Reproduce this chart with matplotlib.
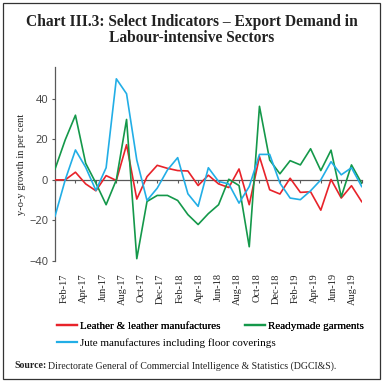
import numpy as np
import matplotlib
matplotlib.use("Agg")
import matplotlib.pyplot as plt
from matplotlib.lines import Line2D
from matplotlib.patches import Rectangle

# monthly y-o-y growth, Feb-17 .. Aug-19
months = ["Feb-17", "Apr-17", "Jun-17", "Aug-17", "Oct-17", "Dec-17",
          "Feb-18", "Apr-18", "Jun-18", "Aug-18", "Oct-18", "Dec-18",
          "Feb-19", "Apr-19", "Jun-19", "Aug-19"]

leather = [0, 0, 3.8, -2, -5.4, 2.1, -0.3, 17.4, -9.5, 1.6, 7.2, 5.7, 4.6, 4.4,
           -2.8, 2.3, -2, -3.8, 5.4, -12.3, 11.5, -4.9, -7, 0.8, -6.2, -5.9,
           -15, 0.2, -9, -2.9, -10.8]
garments = [5.3, 19.8, 32, 8.2, -1.6, -12.3, 0, 29.9, -39, -10.7, -7.7, -7.7,
            -10.2, -17.2, -22.1, -16.7, -12.3, 0.3, -2.8, -33.1, 36.4, 9.8, 3,
            9.5, 7.4, 15.4, 4.6, 14.7, -8.4, 7.4, -1.7]
jute = [-18, 0, 14.8, 6.2, -5.2, 6, 50, 42.6, 9.8, -10.2, -4.1, 4.9, 11, -6.9,
        -13.1, 6, -0.8, -2, -11.5, -3.3, 12.6, 12.6, -1.6, -9, -9.8, -5.4, 0,
        9, 2.5, 6, -3.3]

RED = "#E8232A"
GREEN = "#14984A"
BLUE = "#22AEE6"
AXC = "#595959"
SERIF = "Liberation Serif"

x = np.arange(len(leather))

fig = plt.figure(figsize=(3.84, 3.83), dpi=100)
ax = fig.add_axes([55 / 384, 1 - 260.7 / 383, (361.7 - 55) / 384, (260.7 - 66.7) / 383])

ax.plot(x, leather, color=RED, lw=1.2, zorder=3)
ax.plot(x, garments, color=GREEN, lw=1.2, zorder=3)
ax.plot(x, jute, color=BLUE, lw=1.2, zorder=4)

ax.set_xlim(0, len(x) - 1)
ax.set_ylim(-40, 56)
ax.set_yticks([-40, -20, 0, 20, 40])
for s in ["top", "right"]:
    ax.spines[s].set_visible(False)
ax.spines["left"].set_color(AXC)
ax.spines["left"].set_linewidth(0.9)
ax.spines["bottom"].set_position(("data", 0))
ax.spines["bottom"].set_color(AXC)
ax.spines["bottom"].set_linewidth(0.9)
ax.spines["bottom"].set_zorder(2)
ax.set_xticks(x[::2])
ax.tick_params(axis="x", direction="out", length=2.5, color=AXC, labelbottom=False)
ax.tick_params(axis="y", direction="out", length=2.4, pad=2.5, color=AXC,
               labelsize=8, labelcolor="#404040")
for t in ax.get_yticklabels():
    t.set_family("Open Sans")

# month labels sit along the bottom of the plot
lab_pos = np.linspace(0.92, 29.13, len(months))
sec = ax.secondary_xaxis(0)
sec.spines["bottom"].set_visible(False)
sec.set_xticks(lab_pos, months, rotation=90)
sec.tick_params(length=0, pad=9, labelsize=7.5, labelcolor="#222222")
for t in sec.get_xticklabels():
    t.set_family(SERIF)

fig.text(21.5 / 384, 1 - 164 / 383, "y-o-y growth in per cent", rotation=90,
         ha="center", va="center", family=SERIF, fontsize=7.5, color="#222222")

fig.text(0.5, 1 - 21.5 / 383, "Chart III.3: Select Indicators \u2013 Export Demand in",
         ha="center", va="center", family=SERIF, weight="bold", fontsize=11.2, color="#222222")
fig.text(0.5, 1 - 38.5 / 383, "Labour-intensive Sectors",
         ha="center", va="center", family=SERIF, weight="bold", fontsize=11.2, color="#222222")

h_red = Line2D([], [], color=RED, lw=1.6)
h_green = Line2D([], [], color=GREEN, lw=1.6)
h_blue = Line2D([], [], color=BLUE, lw=1.6)
leg_kw = dict(frameon=False, borderpad=0, borderaxespad=0, handlelength=1.8,
              handletextpad=0.25, loc="center left",
              prop={"family": SERIF, "size": 8})
leg1 = fig.legend([h_red, h_green], ["Leather & leather manufactures", "Readymade garments"],
                  ncol=2, columnspacing=2.2, bbox_to_anchor=(57 / 384, 1 - 325.7 / 383), **leg_kw)
leg2 = fig.legend([h_blue], ["Jute manufactures including floor coverings"],
                  bbox_to_anchor=(57 / 384, 1 - 342.7 / 383), **leg_kw)
fig.add_artist(leg1)

src = fig.text(14 / 384, 1 - 365.7 / 383, "Source:", ha="left", va="center",
               family=SERIF, weight="bold", fontsize=7.1, color="#222222")
fig.canvas.draw()
bb = src.get_window_extent()
fig.text((bb.x1 + 2) / 384, 1 - 365.7 / 383,
         "Directorate General of Commercial Intelligence & Statistics (DGCI&S).",
         ha="left", va="center", family=SERIF, fontsize=7.1, color="#222222")

fig.patches.append(Rectangle((3 / 384, 4 / 383), 377 / 384, 376 / 383, transform=fig.transFigure,
                             fill=False, edgecolor="#333333", lw=0.9))

fig.savefig("out.png", dpi=100)
